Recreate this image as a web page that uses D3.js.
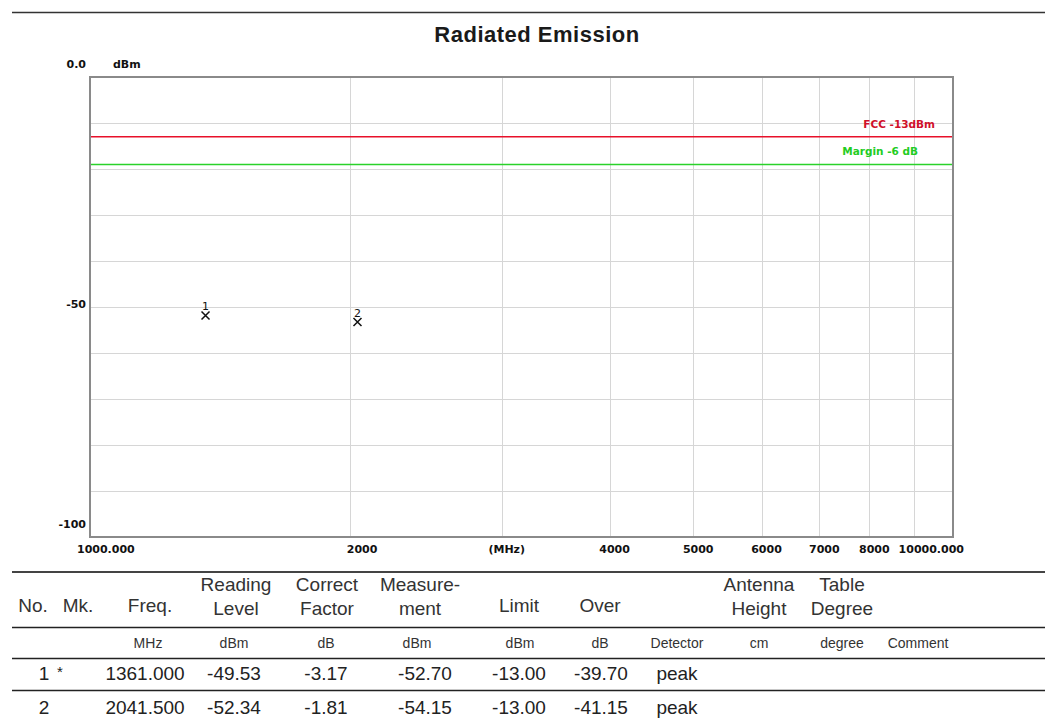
<!DOCTYPE html>
<html><head><meta charset="utf-8">
<script src="https://cdn.jsdelivr.net/npm/d3@7"></script>
<style>body{margin:0;background:#fff;} svg{display:block;}</style>
</head><body>
<script>
// ---------- data ----------
const chartTitle = "Radiated Emission";
const freqTicks = [1000, 2000, 3000, 4000, 5000, 6000, 7000, 8000, 10000];
const freqTickLabels = ["1000.000", "2000", "(MHz)", "4000", "5000", "6000", "7000", "8000", "10000.000"];
const freqGrid = [2000, 3000, 4000, 5000, 6000, 7000, 8000, 9000];
const levelGrid = [-10, -20, -30, -40, -50, -60, -70, -80, -90];
const levelTicks = [0, -50, -100];
const levelTickLabels = ["0.0", "-50", "-100"];
const markerNo = [1, 2];
const markerFreq = [1361.000, 2041.500];
const markerLevel = [-52.70, -54.15];
const limitLevel = -13;
const limitLabel = "FCC -13dBm";
const marginLevel = -19;
const marginLabel = "Margin -6 dB";

const headerLine1 = ["No.", "Mk.", "Freq.", "Reading", "Correct", "Measure-", "Limit", "Over", "", "Antenna", "Table", ""];
const headerLine2 = ["", "", "", "Level", "Factor", "ment", "", "", "", "Height", "Degree", ""];
const unitRow = ["", "", "MHz", "dBm", "dB", "dBm", "dBm", "dB", "Detector", "cm", "degree", "Comment"];
const rowNo = ["1", "2"];
const rowMk = ["*", ""];
const rowFreq = ["1361.000", "2041.500"];
const rowReading = ["-49.53", "-52.34"];
const rowCorrect = ["-3.17", "-1.81"];
const rowMeasure = ["-52.70", "-54.15"];
const rowLimit = ["-13.00", "-13.00"];
const rowOver = ["-39.70", "-41.15"];
const rowDetector = ["peak", "peak"];

// ---------- layout ----------
const W = 1045, H = 720;
const svg = d3.select("body").append("svg").attr("width", W).attr("height", H);
const pl = 90, pr = 953, pt = 77, pb = 537;
const x = d3.scaleLog().domain([1000, 10000]).range([pl, pr]);
const y = d3.scaleLinear().domain([0, -100]).range([pt, pb]);
const axisFont = "'DejaVu Sans', sans-serif";

// top rule
svg.append("line").attr("x1", 12).attr("x2", W).attr("y1", 12.5).attr("y2", 12.5)
  .attr("stroke", "#333").attr("stroke-width", 1.5);

svg.append("text").attr("x", 537).attr("y", 42).attr("text-anchor", "middle")
  .attr("font-family", "'Liberation Sans', Arial, sans-serif").attr("font-weight", "bold")
  .attr("font-size", 22).attr("letter-spacing", 0.5).attr("fill", "#1a1a1a").text(chartTitle);

// grid
const g = svg.append("g");
g.selectAll(".vg").data(freqGrid).join("line")
  .attr("x1", d => Math.round(x(d)) + 0.5).attr("x2", d => Math.round(x(d)) + 0.5)
  .attr("y1", pt).attr("y2", pb).attr("stroke", "#d6d6d6").attr("stroke-width", 1);
g.selectAll(".hg").data(levelGrid).join("line")
  .attr("x1", pl).attr("x2", pr)
  .attr("y1", d => Math.round(y(d)) + 0.5).attr("y2", d => Math.round(y(d)) + 0.5)
  .attr("stroke", "#d6d6d6").attr("stroke-width", 1);

// limit lines
g.append("line").attr("x1", pl).attr("x2", pr).attr("y1", y(limitLevel)).attr("y2", y(limitLevel))
  .attr("stroke", "#e8102a").attr("stroke-width", 1.5);
g.append("line").attr("x1", pl).attr("x2", pr).attr("y1", y(marginLevel)).attr("y2", y(marginLevel))
  .attr("stroke", "#2ad22a").attr("stroke-width", 1.5);
g.append("text").attr("x", 935).attr("y", y(limitLevel) - 9).attr("text-anchor", "end")
  .attr("font-family", axisFont).attr("font-weight", "bold").attr("font-size", 10.5)
  .attr("fill", "#d0102a").text(limitLabel);
g.append("text").attr("x", 918).attr("y", y(marginLevel) - 9).attr("text-anchor", "end")
  .attr("font-family", axisFont).attr("font-weight", "bold").attr("font-size", 10.5)
  .attr("fill", "#22cc22").text(marginLabel);

// frame
g.append("rect").attr("x", pl).attr("y", pt).attr("width", pr - pl).attr("height", pb - pt)
  .attr("fill", "none").attr("stroke", "#8a8a8a").attr("stroke-width", 2);

// x tick labels
g.selectAll(".xl").data(freqTicks).join("text")
  .attr("x", (d, i) => x(d) + (i === 0 ? -13 : i === freqTicks.length - 1 ? 11 : (i === 1 ? -3 : 5)))
  .attr("y", 553)
  .attr("text-anchor", (d, i) => i === 0 ? "start" : i === freqTicks.length - 1 ? "end" : (i === 1 ? "start" : "middle"))
  .attr("font-family", axisFont).attr("font-weight", "bold").attr("font-size", 11).attr("fill", "#111")
  .text((d, i) => freqTickLabels[i]);

// y tick labels
g.selectAll(".yl").data(levelTicks).join("text")
  .attr("x", 86).attr("y", d => d === -50 ? y(d) + 1 : y(d) - 9)
  .attr("text-anchor", "end")
  .attr("font-family", axisFont).attr("font-weight", "bold").attr("font-size", 11).attr("fill", "#111")
  .text((d, i) => levelTickLabels[i]);
g.append("text").attr("x", 113).attr("y", 68).attr("font-family", axisFont).attr("font-weight", "bold")
  .attr("font-size", 11).attr("fill", "#111").text("dBm");

// markers (X drawn as a path, number above)
const mk = g.selectAll(".mk").data(markerNo).join("g");
mk.append("path")
  .attr("d", (d, i) => {
    const cx = x(markerFreq[i]), cy = y(markerLevel[i]) - 4;
    return `M${cx - 4},${cy - 4}L${cx + 4},${cy + 4}M${cx + 4},${cy - 4}L${cx - 4},${cy + 4}`;
  })
  .attr("stroke", "#111").attr("stroke-width", 1.5).attr("fill", "none");
mk.append("text").attr("x", (d, i) => x(markerFreq[i])).attr("y", (d, i) => y(markerLevel[i]) - 9.5)
  .attr("text-anchor", "middle").attr("font-family", axisFont).attr("font-size", 11).attr("fill", "#111").text(d => d);

// ---------- table ----------
const tf = "'Liberation Sans', Arial, sans-serif";
const headCx = [33, 78, 150, 236, 327, 420, 519, 600, 677, 759, 842, 918];
const unitCx = [33, 78, 148, 234, 326, 417, 520, 600, 677, 759, 842, 918];
const dataCx = [44, 60, 145, 234, 326, 425, 519, 601, 677];

[572, 627.5, 658.5, 690.5].forEach((ly, i) => {
  svg.append("line").attr("x1", 12).attr("x2", W).attr("y1", ly).attr("y2", ly)
    .attr("stroke", i === 0 ? "#444" : "#222").attr("stroke-width", i === 0 ? 2 : 1.5);
});

const t = svg.append("g").attr("font-family", tf).attr("fill", "#333").attr("text-anchor", "middle");
headerLine1.forEach((h, i) => {
  if (!h) return;
  const two = headerLine2[i] !== "";
  t.append("text").attr("x", headCx[i]).attr("y", two ? 591 : 612).attr("font-size", 19).text(h);
  if (two) t.append("text").attr("x", headCx[i]).attr("y", 615).attr("font-size", 19).text(headerLine2[i]);
});
unitRow.forEach((u, i) => {
  if (!u) return;
  t.append("text").attr("x", unitCx[i]).attr("y", 648).attr("font-size", 14).text(u);
});
const cols = [rowNo, rowMk, rowFreq, rowReading, rowCorrect, rowMeasure, rowLimit, rowOver, rowDetector];
cols.forEach((col, c) => {
  col.forEach((v, r) => {
    if (!v) return;
    t.append("text").attr("x", dataCx[c]).attr("y", (r === 0 ? (c === 1 ? 677 : 680) : 714))
      .attr("font-size", c === 1 ? 15 : 19).attr("fill", "#222").text(v);
  });
});
</script>
</body></html>
